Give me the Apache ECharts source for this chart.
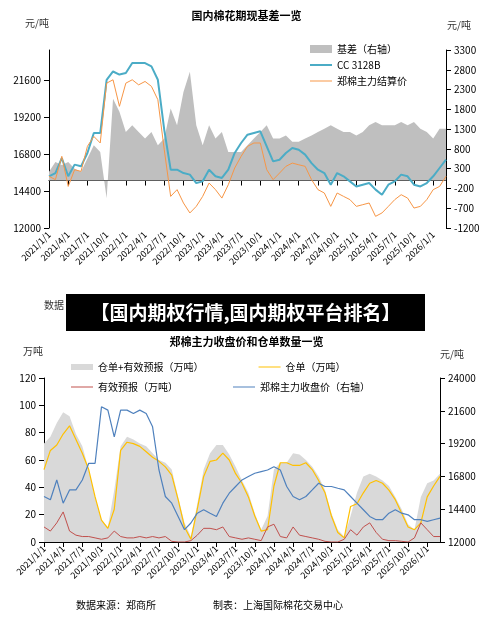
<!DOCTYPE html>
<html>
<head>
<meta charset="utf-8">
<script src="https://cdn.jsdelivr.net/npm/echarts@6/dist/echarts.min.js"></script>
<style>html,body{margin:0;padding:0;background:#fff}#main{width:493px;height:626px}</style>
</head>
<body>
<div id="main"></div>
<script>
// monthly dates 2021/1/1 .. 2026/3/1
var months = [];
for (var y = 2021; y <= 2026; y++) {
  for (var m = 1; m <= 12; m++) {
    if (y === 2026 && m > 3) break;
    months.push(y + '/' + m + '/1');
  }
}

// top chart
var cc3128b = [15370,15580,16560,15370,16130,16020,16890,18190,18190,21660,22200,22000,
  22100,22750,22750,22750,22530,21660,18400,15800,15800,15580,15480,14930,
  15040,15800,15370,15260,15800,16890,17540,18080,18190,18300,17320,16340,
  16450,16890,17210,17100,16780,16230,15800,15580,14820,15580,15370,15040,
  14710,14820,14930,14500,14170,14820,15040,15480,15370,14820,14710,14930,
  15370,15910,16450];
var zcSettle = [15370,15150,16670,14710,15800,15690,17320,17970,17540,21440,21660,19930,
  21440,21660,21330,21550,21230,20360,17100,14060,14500,13630,12980,13410,
  14060,14930,14500,13950,14820,15910,16670,17320,17540,17540,15800,15150,
  15580,16020,16230,16120,16020,15150,14500,14280,13410,14280,14060,13850,
  13410,13520,13630,12760,12980,13410,13850,14170,13950,13300,13410,13850,
  14500,14710,15370];
var basis = [220,470,390,470,300,220,560,890,720,-450,2070,1740,
  1230,1400,1230,1060,1230,890,1060,1820,1400,2240,2750,1400,
  890,1400,1060,1230,720,720,720,890,1060,1230,1400,1060,
  1060,1140,980,980,1060,1140,1230,1310,1400,1310,1230,1230,
  1140,1230,1400,1480,1400,1400,1400,1480,1400,1480,1310,1230,
  1060,1310,1310];

// bottom chart
var warrantTotal = [72,77,87,95,92,79,70,53,33,16,11,38,70,77,75,72,70,65,60,58,53,33,14,4,
  28,53,65,71,71,64,55,45,36,21,9,19,53,58,58,65,64,60,55,48,38,21,9,4,
  19,36,48,50,48,45,41,33,24,13,9,33,43,45,50];
var warrants = [53,67,71,79,85,75,65,53,33,16,10,24,67,73,72,70,66,62,59,55,49,31,11,2,
  24,48,59,60,65,60,50,43,33,19,8,9,41,58,58,56,56,58,53,45,36,19,7,3,
  26,28,36,43,45,43,38,31,21,11,9,14,33,41,48];
var forecasts = [11,8,14,22,8,5,4,4,3,2,3,8,4,3,3,4,3,4,3,4,0.5,0,0,1,
  5,10,10,9,11,4,3,2,3,2,1,11,13,4,3,11,5,4,3,2,0.5,0,0,2,
  9,5,11,14,7,2,1,1,0.5,0,3,14,9,4,4];
var zcClose = [15330,15090,16540,14840,15810,15810,16540,17760,17760,21890,21650,19700,
  21650,21650,21400,21650,21400,20430,17270,15330,14840,13870,12900,13390,
  14110,14360,14110,13870,14840,15570,16060,16540,16790,17030,17150,17270,
  17510,17270,16060,15330,15090,15330,15810,16300,16060,16060,15930,15810,
  15330,14840,14360,13870,13630,13630,14110,14360,14110,13990,13630,13630,
  13510,13630,13750];

var font = '"Noto Sans CJK SC", sans-serif';
var axLine = { show: true, lineStyle: { color: '#000', width: 1 } };

function xAxis(grid) {
  return {
    type: 'category', gridIndex: grid, data: months, boundaryGap: false,
    axisLine: axLine,
    axisTick: { show: true, interval: 2, inside: false, lineStyle: { color: '#000' } },
    axisLabel: { interval: 2, rotate: 45, fontSize: 9, color: '#000', fontFamily: font, margin: 5 },
    splitLine: { show: false }
  };
}
function yAxis(grid, pos, min, max, interval) {
  return {
    type: 'value', gridIndex: grid, position: pos, min: min, max: max, interval: interval,
    axisLine: axLine,
    axisTick: { show: true, lineStyle: { color: '#000' } },
    axisLabel: { showMaxLabel: (max - min) % interval === 0, fontSize: 10, color: '#000', fontFamily: font,
      formatter: function (v) { return String(v); } },
    splitLine: { show: false }
  };
}

var chart = echarts.init(document.getElementById('main'));
chart.setOption({
  backgroundColor: '#fff',
  animation: false,
  textStyle: { fontFamily: font },
  grid: [
    { left: 49, right: 47, top: 50, height: 178 },
    { left: 44, right: 53, top: 378, height: 164 }
  ],
  title: [
    { text: '国内棉花期现基差一览', left: 'center', top: 5, textStyle: { fontSize: 11, fontWeight: 'bold', color: '#000' } },
    { text: '郑棉主力收盘价和仓单数量一览', left: 'center', top: 331, textStyle: { fontSize: 11, fontWeight: 'bold', color: '#000' } }
  ],
  legend: [
    { orient: 'vertical', left: 305, top: 39, itemGap: 6, itemWidth: 22, itemHeight: 8,
      textStyle: { fontSize: 10, color: '#000' },
      data: [
        { name: '基差（右轴）', icon: 'rect' },
        { name: 'CC 3128B', icon: 'path://M0,4H22V6H0Z' },
        { name: '郑棉主力结算价', icon: 'path://M0,4.5H22V5.5H0Z' }
      ] },
    { left: 66, top: 357, width: 380, itemGap: 55, itemWidth: 22, itemHeight: 6,
      textStyle: { fontSize: 10, color: '#000', width: 135 },
      data: [
        { name: '仓单+有效预报（万吨）', icon: 'rect' },
        { name: '仓单（万吨）', icon: 'path://M0,4.5H22V5.5H0Z' }
      ] },
    { left: 66, top: 377, width: 380, itemGap: 55, itemWidth: 22, itemHeight: 6,
      textStyle: { fontSize: 10, color: '#000', width: 135 },
      data: [
        { name: '有效预报（万吨）', icon: 'path://M0,4.5H22V5.5H0Z' },
        { name: '郑棉主力收盘价（右轴）', icon: 'path://M0,4.5H22V5.5H0Z' }
      ] }
  ],
  xAxis: [xAxis(0), xAxis(1)],
  yAxis: [
    yAxis(0, 'left', 12000, 23600, 2400),
    yAxis(0, 'right', -1200, 3300, 500),
    yAxis(1, 'left', 0, 120, 20),
    yAxis(1, 'right', 12000, 24000, 2400)
  ],
  series: [
    { name: '基差（右轴）', type: 'line', xAxisIndex: 0, yAxisIndex: 1, data: basis,
      symbol: 'none', lineStyle: { width: 0 }, areaStyle: { color: '#bfbfbf', opacity: 1, origin: 0 },
      itemStyle: { color: '#bfbfbf' } },
    { name: 'CC 3128B', type: 'line', xAxisIndex: 0, yAxisIndex: 0, data: cc3128b,
      symbol: 'none', lineStyle: { color: '#4bacc6', width: 2 }, itemStyle: { color: '#4bacc6' } },
    { name: '郑棉主力结算价', type: 'line', xAxisIndex: 0, yAxisIndex: 0, data: zcSettle,
      symbol: 'none', lineStyle: { color: '#f79646', width: 1 }, itemStyle: { color: '#f79646' } },
    { name: '仓单+有效预报（万吨）', type: 'line', xAxisIndex: 1, yAxisIndex: 2, data: warrantTotal,
      symbol: 'none', lineStyle: { width: 0 }, areaStyle: { color: '#d9d9d9', opacity: 1 }, itemStyle: { color: '#d9d9d9' } },
    { name: '仓单（万吨）', type: 'line', xAxisIndex: 1, yAxisIndex: 2, data: warrants,
      symbol: 'none', lineStyle: { color: '#ffc000', width: 1.2 }, itemStyle: { color: '#ffc000' } },
    { name: '有效预报（万吨）', type: 'line', xAxisIndex: 1, yAxisIndex: 2, data: forecasts,
      symbol: 'none', lineStyle: { color: '#c0504d', width: 1 }, itemStyle: { color: '#c0504d' } },
    { name: '郑棉主力收盘价（右轴）', type: 'line', xAxisIndex: 1, yAxisIndex: 3, data: zcClose,
      symbol: 'none', lineStyle: { color: '#4f81bd', width: 1.2 }, itemStyle: { color: '#4f81bd' } }
  ],
  graphic: [
    { type: 'text', left: 25, top: 18, style: { text: '元/吨', fill: '#333', font: '10px ' + font } },
    { type: 'text', left: 447, top: 20, style: { text: '元/吨', fill: '#333', font: '10px ' + font } },
    { type: 'text', left: 44, top: 300, style: { text: '数据', fill: '#333', font: '10px ' + font } },
    { type: 'rect', shape: { x: 66, y: 294, width: 359, height: 37 }, style: { fill: '#000' } },
    { type: 'text', x: 245.5, y: 312.5, style: { text: '【国内期权行情,国内期权平台排名】', fill: '#fff',
      font: 'bold 19px ' + font, align: 'center', verticalAlign: 'middle' } },
    { type: 'text', left: 23, top: 346, style: { text: '万吨', fill: '#333', font: '10px ' + font } },
    { type: 'text', left: 440, top: 349, style: { text: '元/吨', fill: '#333', font: '10px ' + font } },
    { type: 'text', left: 76, top: 600, style: { text: '数据来源：郑商所', fill: '#000', font: '10px ' + font } },
    { type: 'text', left: 213, top: 600, style: { text: '制表：上海国际棉花交易中心', fill: '#000', font: '10px ' + font } }
  ]
});
</script>
</body>
</html>
